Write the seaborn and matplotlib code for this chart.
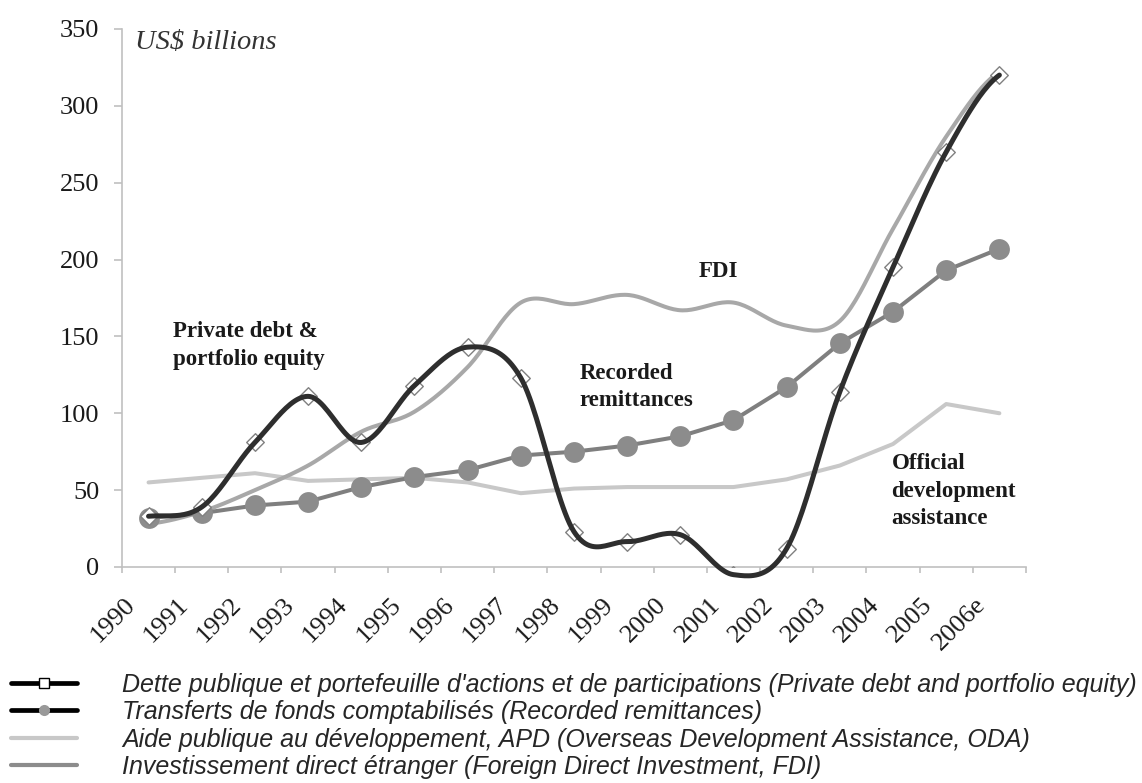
import numpy as np
import pandas as pd
import seaborn as sns
import matplotlib.pyplot as plt
from matplotlib.lines import Line2D
from matplotlib.transforms import ScaledTranslation

# Données (milliards US$)
years = ['1990', '1991', '1992', '1993', '1994', '1995', '1996', '1997', '1998',
         '1999', '2000', '2001', '2002', '2003', '2004', '2005', '2006e']
private_debt = [33, 39, 81, 111, 81, 118, 143, 123, 23, 16.5, 21, -5, 12, 114, 195, 270, 320]
remittances = [32, 35, 40, 42.5, 52, 58.5, 63, 72.5, 75, 79, 85, 95.5, 117, 145.5, 166, 193, 207]
oda = [55, 58, 61, 56, 57, 58, 55, 48, 51, 52, 52, 52, 57, 66, 80, 106, 100]
fdi = [28, 36, 50, 66, 88, 101, 130, 172, 171, 177, 167, 172, 157, 160, 220, 280, 322]

legend_labels = [
    "Dette publique et portefeuille d'actions et de participations (Private debt and portfolio equity)",
    "Transferts de fonds comptabilisés (Recorded remittances)",
    "Aide publique au développement, APD (Overseas Development Assistance, ODA)",
    "Investissement direct étranger (Foreign Direct Investment, FDI)",
]


def smooth(values, steps=24):
    # courbe lissée façon Excel (Catmull-Rom passant par chaque point)
    v = np.asarray(values, dtype=float)
    p = np.concatenate([[v[0]], v, [v[-1]]])
    xs, ys = [], []
    t = np.linspace(0, 1, steps, endpoint=False)
    for i in range(len(v) - 1):
        p0, p1, p2, p3 = p[i], p[i + 1], p[i + 2], p[i + 3]
        ys.append(0.5 * (2 * p1 + (p2 - p0) * t
                         + (2 * p0 - 5 * p1 + 4 * p2 - p3) * t ** 2
                         + (3 * p1 - p0 - 3 * p2 + p3) * t ** 3))
        xs.append(i + t)
    xs.append([len(v) - 1])
    ys.append([v[-1]])
    return np.concatenate(xs), np.concatenate(ys)


df = pd.DataFrame({'idx': np.arange(len(years)), 'year': years,
                   'debt': private_debt, 'remit': remittances,
                   'oda': oda, 'fdi': fdi})

sns.set_theme(style='white')
plt.rcParams['font.family'] = ['Liberation Serif', 'DejaVu Serif']

fig = plt.figure(figsize=(11.42, 7.83), dpi=100)
ax = fig.add_axes([0.1068, 0.2759, 0.7916, 0.6871])

# APD : ligne droite gris clair
sns.lineplot(data=df, x='idx', y='oda', ax=ax, color='#c8c8c8', linewidth=2.9, zorder=2)

# IDE : ligne lissée gris moyen
fx, fy = smooth(fdi)
sns.lineplot(x=fx, y=fy, ax=ax, color='#a8a8a8', linewidth=2.9, zorder=3)

# Transferts de fonds : ligne + ronds gris
sns.lineplot(data=df, x='idx', y='remit', ax=ax, color='#7f7f7f', linewidth=2.9,
             marker='o', markersize=15, markerfacecolor='#8c8c8c',
             markeredgewidth=0, zorder=4)

# Dette privée : losanges blancs sous une ligne lissée noire
sns.scatterplot(data=df, x='idx', y='debt', ax=ax, marker='D', s=80,
                color='white', edgecolor='#808080', linewidth=1, zorder=5)
dx, dy = smooth(private_debt)
sns.lineplot(x=dx, y=dy, ax=ax, color='#2e2e2e', linewidth=3.6, zorder=6, clip_on=False)

# Axes
ax.set_xlim(-0.5, len(years) - 0.5)
ax.set_ylim(0, 350)
ax.set_yticks(range(0, 351, 50))
ax.set_xlabel('')
ax.set_ylabel('')
sns.despine(ax=ax)
for side in ['left', 'bottom']:
    ax.spines[side].set_color('#c0c0c0')
    ax.spines[side].set_linewidth(1.2)

ax.tick_params(axis='y', length=5.8, width=1.2, color='#c0c0c0', pad=10.5,
               labelsize=19, labelcolor='#1a1a1a', left=True)
ax.set_xticks(np.arange(len(years) + 1) - 0.5, minor=True)
ax.tick_params(axis='x', which='minor', length=4.5, width=1.2, color='#c0c0c0', bottom=True)
ax.set_xticks(df['idx'])
ax.set_xticklabels(years)
ax.tick_params(axis='x', which='major', length=0, pad=25, labelsize=19, labelcolor='#1a1a1a')
shift = ScaledTranslation(-17 / 100, 0, fig.dpi_scale_trans)
for lbl in ax.get_xticklabels():
    lbl.set_rotation(45)
    lbl.set_ha('right')
    lbl.set_va('center')
    lbl.set_rotation_mode('anchor')
    lbl.set_transform(lbl.get_transform() + shift)

# Textes dans le graphique
ax.text(0.0144, 0.974, 'US$ billions', transform=ax.transAxes, style='italic',
        size=20.5, va='center', ha='left', color='#333333')
label_kw = dict(fontweight='bold', size=16.5, linespacing=1.4, va='center',
                ha='left', color='#1a1a1a')
ax.text(0.46, 144, 'Private debt &\nportfolio equity', **label_kw)
ax.text(10.72, 192, 'FDI', **{**label_kw, 'ha': 'center'})
ax.text(8.11, 117, 'Recorded\nremittances', **label_kw)
ax.text(13.97, 49.4, 'Official\ndevelopment\nassistance', **label_kw)

# Légende sous le graphique
handles = [
    Line2D([], [], color='black', lw=3.4, marker='s', markersize=7.5,
           markerfacecolor='white', markeredgecolor='black', markeredgewidth=1),
    Line2D([], [], color='black', lw=3.4, marker='o', markersize=8,
           markerfacecolor='#999999', markeredgewidth=0),
    Line2D([], [], color='#c8c8c8', lw=3),
    Line2D([], [], color='#8c8c8c', lw=3),
]
fig.legend(handles, legend_labels, loc='center left', bbox_to_anchor=(0.0096, 0.073),
           frameon=False, borderpad=0, borderaxespad=0, handlelength=2.64,
           handletextpad=1.8, labelspacing=0.14,
           prop={'family': 'Liberation Sans', 'style': 'italic', 'size': 18})

fig.savefig('out.png', dpi=100)
